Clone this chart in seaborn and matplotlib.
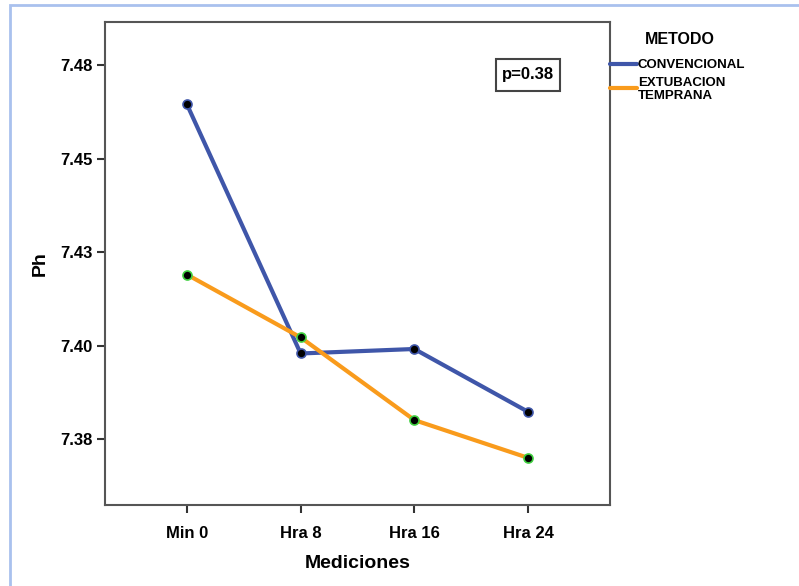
import pandas as pd
import matplotlib.pyplot as plt
import seaborn as sns
from matplotlib.lines import Line2D
from matplotlib.patches import Rectangle

# Values
mediciones = ["Min 0", "Hra 8", "Hra 16", "Hra 24"]
convencional = [7.4645, 7.3979, 7.3991, 7.3823]
extubacion = [7.4190, 7.4022, 7.3801, 7.3700]
metodos = ["CONVENCIONAL", "EXTUBACION\nTEMPRANA"]
y_ticks = [7.375, 7.400, 7.425, 7.450, 7.475]
y_tick_labels = ["7.38", "7.40", "7.43", "7.45", "7.48"]
p_text = "p=0.38"

BLUE = "#3f56a9"
ORANGE = "#f99b1c"
FRAME = "#a9c1ee"

df = pd.DataFrame({
    "Mediciones": mediciones * 2,
    "x": list(range(len(mediciones))) * 2,
    "Ph": convencional + extubacion,
    "METODO": [metodos[0]] * 4 + [metodos[1]] * 4,
})

sns.set_theme(style="white")
plt.rcParams["font.family"] = ["Liberation Sans", "DejaVu Sans"]
plt.rcParams["font.weight"] = "bold"
plt.rcParams["text.color"] = "black"
plt.rcParams["axes.labelcolor"] = "black"

fig = plt.figure(figsize=(7.99, 5.86), dpi=100)
ax = fig.add_axes([105 / 799, 81 / 586, 505 / 799, 483 / 586])

sns.lineplot(data=df, x="x", y="Ph", hue="METODO", palette=[BLUE, ORANGE],
             linewidth=3, legend=False, ax=ax, sort=False)

# markers: black dots with coloured rim
ax.scatter(range(4), convencional, s=42, color="black", edgecolor=BLUE,
           linewidth=1.2, zorder=5)
ax.scatter(range(4), extubacion, s=42, color="black", edgecolor="#3fcf3f",
           linewidth=1.2, zorder=5)

ax.set_xlim(-0.72, 3.72)
ax.set_ylim(7.3574, 7.4865)
ax.set_xticks(range(4))
ax.set_xticklabels(mediciones, fontsize=12, fontweight="bold")
ax.set_yticks(y_ticks)
ax.set_yticklabels(y_tick_labels, fontsize=12, fontweight="bold")
ax.tick_params(axis="both", length=6, width=1.5, color="#333333",
               labelcolor="black", direction="out", bottom=True, left=True,
               pad=3)
ax.tick_params(axis="x", pad=9)
ax.set_xlabel("Mediciones", fontsize=14, fontweight="bold", labelpad=10)
ax.set_ylabel("Ph", fontsize=14, fontweight="bold", labelpad=8)

for s in ax.spines.values():
    s.set_color("#555555")
    s.set_linewidth(1.5)

# p-value box
fig.text(528 / 799, 1 - 75 / 586, p_text, fontsize=12, fontweight="bold",
         ha="center", va="center")
fig.patches.append(Rectangle((496 / 799, 1 - 91 / 586), 64 / 799, 32 / 586,
                             transform=fig.transFigure, fill=False,
                             edgecolor="#444444", linewidth=1.5))

# legend drawn beside the axis
fig.text(680 / 799, 1 - 39 / 586, "METODO", fontsize=11.5, fontweight="bold",
         ha="center", va="center")
for yy, col in [(64, BLUE), (88, ORANGE)]:
    fig.lines.append(Line2D([610 / 799, 637 / 799], [1 - yy / 586, 1 - yy / 586],
                            transform=fig.transFigure, color=col, linewidth=3))
fig.text(638 / 799, 1 - 65 / 586, metodos[0], fontsize=9.5, fontweight="bold",
         ha="left", va="center")
for yy, part in zip([83, 96], metodos[1].split("\n")):
    fig.text(638 / 799, 1 - yy / 586, part, fontsize=9.5, fontweight="bold",
             ha="left", va="center")

# outer light-blue frame
fig.patches.append(Rectangle((10 / 799, -0.1), 1.2, 1 - 5 / 586 + 0.1,
                             transform=fig.transFigure, fill=False,
                             edgecolor=FRAME, linewidth=2))

fig.savefig("out.png", dpi=100)
